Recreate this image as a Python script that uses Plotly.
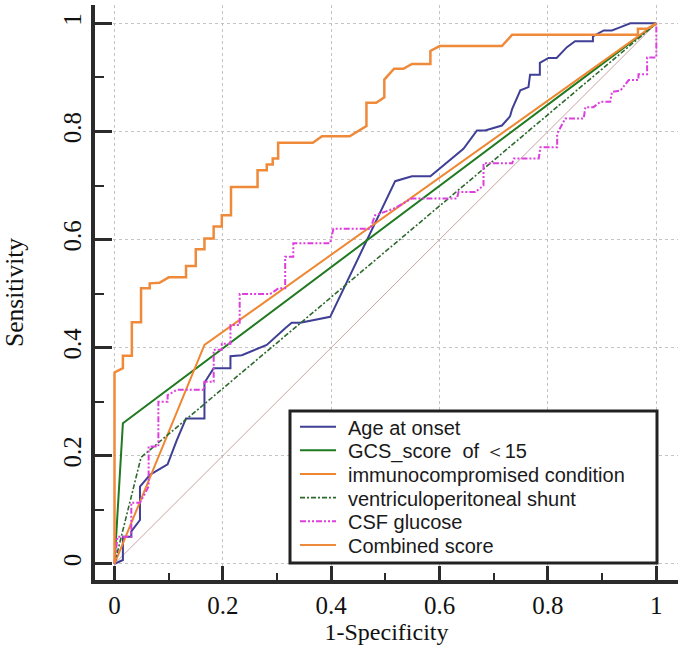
import plotly.graph_objects as go

# ---------------- data ----------------
age_fpr = [0, 0.0155, 0.0155, 0.031, 0.031, 0.047, 0.047, 0.066, 0.098, 0.115,
           0.132, 0.166, 0.166, 0.183, 0.214, 0.214, 0.235, 0.281, 0.315, 0.327,
           0.343, 0.367, 0.398, 0.518, 0.549, 0.583, 0.644, 0.669, 0.684, 0.715,
           0.730, 0.734, 0.749, 0.764, 0.767, 0.785, 0.785, 0.801, 0.816, 0.835,
           0.850, 0.883, 0.883, 0.903, 0.918, 0.934, 0.952, 1.0]
age_tpr = [0, 0.007, 0.05, 0.05, 0.06, 0.081, 0.143, 0.165, 0.184, 0.229,
           0.269, 0.269, 0.335, 0.362, 0.362, 0.384, 0.386, 0.405, 0.436, 0.446,
           0.446, 0.451, 0.457, 0.708, 0.717, 0.717, 0.768, 0.802, 0.802, 0.811,
           0.828, 0.842, 0.876, 0.882, 0.905, 0.905, 0.927, 0.936, 0.936, 0.956,
           0.967, 0.967, 0.976, 0.987, 0.987, 0.993, 1.0, 1.0]

gcs_fpr = [0, 0.0155, 1.0]
gcs_tpr = [0, 0.26, 1.0]

immuno_fpr = [0, 0.166, 1.0]
immuno_tpr = [0, 0.405, 1.0]

vp_fpr = [0, 0.049, 1.0]
vp_tpr = [0, 0.197, 1.0]

csf_fpr = [0, 0.0055, 0.031, 0.031, 0.047, 0.063, 0.063, 0.081, 0.081, 0.098,
           0.098, 0.115, 0.166, 0.166, 0.183, 0.183, 0.198, 0.198, 0.214, 0.214,
           0.231, 0.231, 0.287, 0.303, 0.315, 0.315, 0.330, 0.330, 0.398, 0.404,
           0.472, 0.481, 0.515, 0.549, 0.632, 0.635, 0.666, 0.681, 0.681, 0.734,
           0.737, 0.783, 0.786, 0.817, 0.817, 0.832, 0.866, 0.869, 0.884, 0.897,
           0.915, 0.918, 0.934, 0.949, 0.967, 0.967, 0.983, 0.983, 1.0, 1.0]
csf_tpr = [0, 0.05, 0.05, 0.113, 0.113, 0.143, 0.217, 0.217, 0.300, 0.300,
           0.312, 0.322, 0.322, 0.337, 0.337, 0.396, 0.396, 0.407, 0.407, 0.442,
           0.442, 0.499, 0.499, 0.510, 0.510, 0.568, 0.568, 0.593, 0.593, 0.620,
           0.620, 0.645, 0.657, 0.676, 0.676, 0.688, 0.688, 0.700, 0.741, 0.741,
           0.750, 0.750, 0.771, 0.771, 0.796, 0.824, 0.824, 0.845, 0.845, 0.855,
           0.855, 0.873, 0.876, 0.895, 0.895, 0.906, 0.906, 0.937, 0.937, 1.0]

comb_fpr = [0, 0, 0.0155, 0.0155, 0.032, 0.032, 0.049, 0.049, 0.065, 0.065,
            0.083, 0.100, 0.132, 0.132, 0.150, 0.150, 0.166, 0.166, 0.183, 0.183,
            0.198, 0.198, 0.215, 0.215, 0.264, 0.264, 0.281, 0.281, 0.292, 0.292,
            0.302, 0.302, 0.366, 0.383, 0.434, 0.465, 0.465, 0.483, 0.498, 0.498,
            0.516, 0.533, 0.549, 0.583, 0.583, 0.600, 0.715, 0.734, 0.966, 0.966,
            0.983, 1.0]
comb_tpr = [0, 0.354, 0.362, 0.385, 0.385, 0.447, 0.447, 0.510, 0.510, 0.519,
            0.520, 0.530, 0.530, 0.551, 0.551, 0.582, 0.582, 0.602, 0.602, 0.624,
            0.624, 0.645, 0.645, 0.697, 0.697, 0.728, 0.728, 0.739, 0.739, 0.750,
            0.750, 0.779, 0.779, 0.791, 0.791, 0.810, 0.853, 0.853, 0.863, 0.896,
            0.916, 0.916, 0.925, 0.925, 0.949, 0.958, 0.958, 0.979, 0.979, 0.990,
            0.990, 1.0]

ref_line = [0, 1]

series_names = ["Age at onset", "GCS_score\u00a0 of \uff1c15", "immunocompromised condition",
                "ventriculoperitoneal shunt", "CSF glucose", "Combined score"]
tick_vals = [0, 0.2, 0.4, 0.6, 0.8, 1]
tick_text = ["0", "0.2", "0.4", "0.6", "0.8", "1"]

# ---------------- styles ----------------
series_xy = [(age_fpr, age_tpr), (gcs_fpr, gcs_tpr), (immuno_fpr, immuno_tpr),
             (vp_fpr, vp_tpr), (csf_fpr, csf_tpr), (comb_fpr, comb_tpr)]
colors = ["#3f3f96", "#207a20", "#ef8732", "#2c6a2c", "#dd3fdd", "#ef8a3a"]
widths = [2, 2, 2, 1.6, 2, 2.5]
dashes = ["solid", "solid", "solid", "5px,2px,2px,2px", "6px,2px,2px,2px,2px,2px", "solid"]

W, H = 685, 648
ML, MR, MT, MB = 95, 7, 5, 68
XR = [-0.036, 1.04]
YR = [-0.030, 1.034]
PW, PH = W - ML - MR, H - MT - MB

def xp(px):  # pixel -> paper x
    return (px - ML) / PW

def yp(py):  # pixel -> paper y
    return (H - MB - py) / PH

fig = go.Figure()
fig.add_trace(go.Scatter(x=ref_line, y=ref_line, mode="lines", showlegend=False,
                         line=dict(color="#c9a3a3", width=1), hoverinfo="skip"))
for (xs, ys), name, c, w, d in zip(series_xy, series_names, colors, widths, dashes):
    fig.add_trace(go.Scatter(x=xs, y=ys, mode="lines", name=name, showlegend=False,
                             line=dict(color=c, width=w, dash=d)))

# ---------------- hand-built legend box ----------------
shapes = [dict(type="rect", xref="paper", yref="paper",
               x0=xp(290), x1=xp(657), y0=yp(563), y1=yp(411),
               line=dict(color="#222222", width=3), fillcolor="white", layer="above")]
annotations = []
row0, rowstep = 426.7, 23.65
for i, (name, c, w, d) in enumerate(zip(series_names, colors, widths, dashes)):
    ry = row0 + i * rowstep
    shapes.append(dict(type="line", xref="paper", yref="paper",
                       x0=xp(300), x1=xp(336), y0=yp(ry), y1=yp(ry),
                       line=dict(color=c, width=min(w, 2), dash=d), layer="above"))
    annotations.append(dict(xref="paper", yref="paper", x=xp(346), y=yp(ry + 1),
                            xanchor="left", yanchor="middle", text=name, showarrow=False,
                            font=dict(family="Liberation Sans, Arial, sans-serif",
                                      size=20, color="#1a1a1a")))

serif = "Liberation Serif, Times New Roman, serif"
axis_common = dict(
    showline=True, linecolor="#2b2b2b", linewidth=3.5, automargin=False,
    ticks="inside", tickcolor="#2b2b2b", tickwidth=3,
    tickvals=tick_vals, ticktext=tick_text,
    showgrid=True, gridcolor="#c4c4c4", griddash="dot", gridwidth=1,
    zeroline=False, tickfont=dict(family=serif, size=25, color="#111111"),
    minor=dict(ticks="inside", dtick=0.1, tick0=0, tickcolor="#2b2b2b", tickwidth=2,
               showgrid=False),
)

fig.update_layout(
    width=W, height=H, margin=dict(l=ML, r=MR, t=MT, b=MB, autoexpand=False),
    paper_bgcolor="white", plot_bgcolor="white",
    shapes=shapes, annotations=annotations, showlegend=False,
)
fig.update_xaxes(**axis_common, range=XR, ticklen=14, minor_ticklen=7,
                 title=dict(text="1-Specificity", font=dict(family=serif, size=24, color="#111111"),
                            standoff=0))
fig.update_yaxes(**axis_common, range=YR, ticklen=17, minor_ticklen=9, tickangle=-90,
                 title=dict(text="Sensitivity", font=dict(family=serif, size=25.5, color="#111111"),
                            standoff=36))

# remove the browser's default 8px page margin so the figure sits at the window origin
fig.write_html("out.html", config={"displayModeBar": False},
               post_script="document.body.style.margin='0';")
